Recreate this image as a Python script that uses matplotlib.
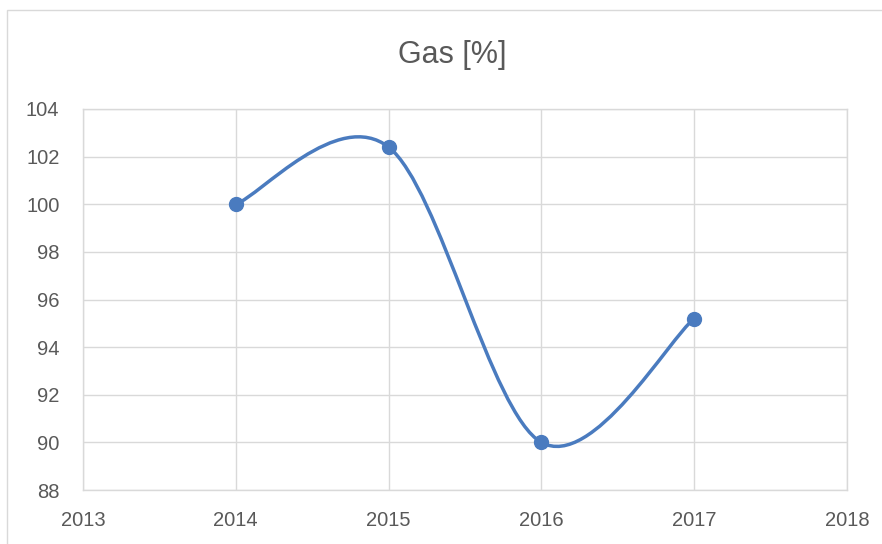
import matplotlib
matplotlib.use("Agg")
import matplotlib.pyplot as plt
from matplotlib.path import Path
from matplotlib.patches import PathPatch, Rectangle

# data
years = [2014, 2015, 2016, 2017]
gas_pct = [100.0, 102.4, 90.0, 95.2]
x_ticks = [2013, 2014, 2015, 2016, 2017, 2018]
y_ticks = [88, 90, 92, 94, 96, 98, 100, 102, 104]
title = "Gas [%]"

LINE = "#4a7bbf"
GRID = "#d9d9d9"
TEXT = "#595959"

plt.rcParams["font.family"] = ["Liberation Sans", "DejaVu Sans"]

W, H = 882, 544
fig = plt.figure(figsize=(W / 100, H / 100), dpi=100)
ax = fig.add_axes([83 / W, (H - 490) / H, (847 - 83) / W, (490 - 109) / H])

# chart area border (cropped on right and bottom)
fig.patches.append(Rectangle((7 / W, -0.2), 1.2, (H - 10) / H + 0.2,
                             transform=fig.transFigure, fill=False,
                             edgecolor=GRID, lw=1.0))


def smooth_path(xs, ys, k=1 / 6):
    """Excel-like smoothed line: cubic bezier through each point."""
    pts = list(zip(xs, ys))
    n = len(pts)
    verts = [pts[0]]
    codes = [Path.MOVETO]
    for i in range(n - 1):
        p0 = pts[max(i - 1, 0)]
        p1 = pts[i]
        p2 = pts[i + 1]
        p3 = pts[min(i + 2, n - 1)]
        c1 = (p1[0] + (p2[0] - p0[0]) * k, p1[1] + (p2[1] - p0[1]) * k)
        c2 = (p2[0] - (p3[0] - p1[0]) * k, p2[1] - (p3[1] - p1[1]) * k)
        verts += [c1, c2, p2]
        codes += [Path.CURVE4] * 3
    return Path(verts, codes)


ax.add_patch(PathPatch(smooth_path(years, gas_pct), fill=False,
                       edgecolor=LINE, lw=2.5, capstyle="round", zorder=3))
ax.plot(years, gas_pct, "o", color=LINE, ms=10, mec=LINE, zorder=4)

ax.set_xlim(x_ticks[0], x_ticks[-1])
ax.set_ylim(y_ticks[0], y_ticks[-1])
ax.set_xticks(x_ticks)
ax.set_yticks(y_ticks)
ax.set_xticklabels([str(v) for v in x_ticks])
ax.set_yticklabels([str(v) for v in y_ticks])
ax.grid(True, color=GRID, lw=1.0)
ax.set_axisbelow(True)
for s in ax.spines.values():
    s.set_color(GRID)
    s.set_linewidth(1.0)
ax.tick_params(length=0, labelsize=14.5, labelcolor=TEXT)
ax.tick_params(axis="y", pad=17)
ax.tick_params(axis="x", pad=15)

fig.text(452 / W, 1 - 55 / H, title, ha="center", va="center",
         fontsize=22, color=TEXT)

fig.savefig("out.png", dpi=100)
